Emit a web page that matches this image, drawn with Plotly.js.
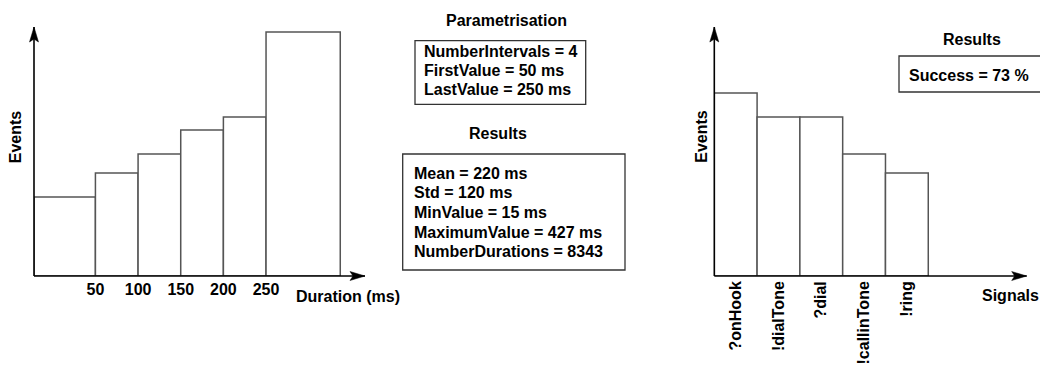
<!DOCTYPE html>
<html>
<head>
<meta charset="utf-8">
<script src="https://cdn.plot.ly/plotly-3.0.1.min.js"></script>
<style>html,body{margin:0;padding:0;background:#fff;}#chart{width:1040px;height:367px;}</style>
</head>
<body>
<div id="chart"></div>
<script>
// ---- data ----
const durationBinStart = [-22, 50, 100, 150, 200, 250];
const durationBinEnd   = [50, 100, 150, 200, 250, 337];
const durationEvents   = [79, 103, 122, 146, 159, 244];
const durationTicks    = [50, 100, 150, 200, 250];

const signals      = ['?onHook', '!dialTone', '?dial', '!callinTone', '!ring'];
const signalEvents = [183, 159, 159, 122, 103];

const paramTitle  = 'Parametrisation';
const paramLines  = ['NumberIntervals = 4', 'FirstValue = 50 ms', 'LastValue = 250 ms'];
const resultTitle = 'Results';
const resultLines = ['Mean = 220 ms', 'Std = 120 ms', 'MinValue = 15 ms', 'MaximumValue = 427 ms', 'NumberDurations = 8343'];
const signalResultLines = ['Success = 73 %'];

// ---- layout helpers ----
const W = 1040, H = 367;
const px = x => x / W;
const py = y => 1 - y / H;
const FONT = 'Liberation Sans, Arial, Helvetica, sans-serif';
const font = (s) => ({family: FONT, size: s, color: '#000', weight: 700});

// plot frames in pixels (left, right tip, bottom, top tip)
const frame1 = {l: 34, r: 365, b: 276, t: 27};
const frame2 = {l: 714.3, r: 1026.7, b: 276, t: 27};

const x1Range = [-22, 366], y1Range = [0, 249];
const x2Range = [-0.5, 6.8], y2Range = [0, 249];

const barLine = {color: '#555', width: 1.5};

const traces = [
  {
    type: 'bar',
    x: durationBinStart.map((s, i) => (s + durationBinEnd[i]) / 2),
    width: durationBinStart.map((s, i) => durationBinEnd[i] - s),
    y: durationEvents,
    marker: {color: '#fff', line: barLine},
    xaxis: 'x', yaxis: 'y', hoverinfo: 'skip'
  },
  {
    type: 'bar',
    x: signals,
    y: signalEvents,
    width: 1,
    marker: {color: '#fff', line: barLine},
    xaxis: 'x2', yaxis: 'y2', hoverinfo: 'skip'
  }
];

const axisBase = {showgrid: false, zeroline: false, showline: false, fixedrange: true, automargin: false};

const shapes = [];
function axisArrows(f) {
  const L = px(f.l), R = px(f.r), B = py(f.b), T = py(f.t);
  shapes.push({type: 'line', xref: 'paper', yref: 'paper', x0: L, x1: R, y0: B, y1: B, line: {color: '#000', width: 1.6}, layer: 'above'});
  shapes.push({type: 'path', xref: 'paper', yref: 'paper', xsizemode: 'pixel', ysizemode: 'pixel', xanchor: R, yanchor: B,
    path: 'M0,0 L-15,4.5 L-12,0 L-15,-4.5 Z', fillcolor: '#000', line: {color: '#000', width: 0.5}, layer: 'above'});
  shapes.push({type: 'line', xref: 'paper', yref: 'paper', x0: L, x1: L, y0: B, y1: T, line: {color: '#000', width: 1.6}, layer: 'above'});
  shapes.push({type: 'path', xref: 'paper', yref: 'paper', xsizemode: 'pixel', ysizemode: 'pixel', xanchor: L, yanchor: T,
    path: 'M0,0 L-4.5,-15 L0,-12 L4.5,-15 Z', fillcolor: '#000', line: {color: '#000', width: 0.5}, layer: 'above'});
}
axisArrows(frame1);
axisArrows(frame2);

function box(x0, y0, x1, y1) {
  shapes.push({type: 'rect', xref: 'paper', yref: 'paper', x0: px(x0), x1: px(x1), y0: py(y0), y1: py(y1),
    line: {color: '#333', width: 1.3}, fillcolor: 'rgba(0,0,0,0)'});
}
box(415, 40.7, 585.7, 104.3);
box(402.7, 154, 625, 270);
box(899, 56, 1045, 92);

const annotations = [];
function label(text, x, y, xanchor, angle) {
  annotations.push({text, xref: 'paper', yref: 'paper', x: px(x), y: py(y), xanchor: xanchor || 'left', yanchor: 'middle',
    showarrow: false, font: font(16), textangle: angle || 0});
}
label(paramTitle, 506, 21, 'center');
paramLines.forEach((t, i) => label(t, 422, 51.7 + i * 18.8));
label(resultTitle, 497.5, 133, 'center');
resultLines.forEach((t, i) => label(t, 411.5, 173.3 + i * 19.6));
label(resultTitle, 971.7, 39.3, 'center');
signalResultLines.forEach((t, i) => label(t, 907, 76 + i * 19.6));
label('Events', 15.5, 136.7, 'center', -90);
label('Events', 702, 136.7, 'center', -90);
label('Duration (ms)', 294, 296);
label('Signals', 980, 295);

const layout = {
  width: W, height: H,
  margin: {l: 0, r: 0, t: 0, b: 0},
  paper_bgcolor: '#fff', plot_bgcolor: 'rgba(0,0,0,0)',
  showlegend: false,
  bargap: 0,
  xaxis: Object.assign({}, axisBase, {domain: [px(frame1.l), px(frame1.r)], range: x1Range, tickmode: 'array', tickvals: durationTicks,
    ticks: '', tickfont: font(16), ticklabelstandoff: 2}),
  yaxis: Object.assign({}, axisBase, {domain: [py(frame1.b), py(frame1.t)], range: y1Range, showticklabels: false}),
  xaxis2: Object.assign({}, axisBase, {domain: [px(frame2.l), px(frame2.r)], range: x2Range, type: 'category', tickangle: -90,
    ticks: '', tickfont: font(16), ticklabelstandoff: 1, anchor: 'y2'}),
  yaxis2: Object.assign({}, axisBase, {domain: [py(frame2.b), py(frame2.t)], range: y2Range, showticklabels: false, anchor: 'x2'}),
  shapes, annotations
};

Plotly.newPlot('chart', traces, layout, {displayModeBar: false, staticPlot: true});
</script>
</body>
</html>
